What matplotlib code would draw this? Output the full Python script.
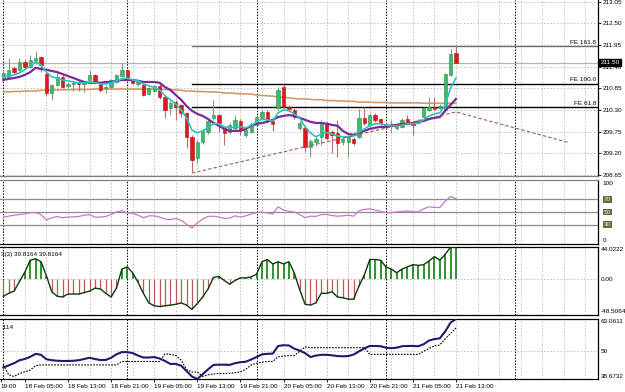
import numpy as np
import matplotlib
matplotlib.use("Agg")
import matplotlib.pyplot as plt
from matplotlib.transforms import blended_transform_factory

plt.rcParams['font.family'] = ['Liberation Sans', 'DejaVu Sans']

# H1 bars, 18 Feb 01:00 .. 21 Feb 13:00
opens = [211.11, 211.14, 211.37, 211.32, 211.52, 211.39, 211.52, 211.65, 211.21, 210.73,
         210.94, 211.14, 210.91, 210.96, 210.99, 210.96, 211.06, 211.19, 210.96, 210.86,
         210.88, 211.01, 211.16, 211.32, 211.06, 210.96, 210.94, 210.71, 210.78, 210.91,
         210.63, 210.35, 210.50, 210.43, 210.23, 209.62, 209.08, 209.49, 209.74, 210.10,
         210.17, 209.85, 209.74, 209.85, 210.02, 209.67, 209.74, 209.92, 210.10, 210.25,
         210.02, 210.35, 210.88, 210.38, 210.30, 209.85, 209.85, 209.36, 209.49, 209.62,
         209.97, 209.74, 209.72, 209.49, 209.49, 209.57, 209.62, 210.10, 209.92, 210.17,
         210.07, 209.87, 209.92, 209.85, 209.87, 210.07, 209.97, 209.97, 210.12, 210.30,
         210.38, 210.35, 210.30, 211.19, 211.75]
highs = [211.32, 211.62, 211.42, 211.62, 211.57, 211.70, 211.80, 211.67, 211.26, 210.96,
         211.24, 211.19, 211.01, 211.06, 211.06, 211.04, 211.32, 211.21, 210.99, 210.94,
         211.09, 211.21, 211.49, 211.34, 211.09, 211.06, 210.96, 210.88, 210.94, 210.96,
         210.68, 210.53, 210.56, 210.45, 210.25, 209.67, 209.54, 209.82, 210.07, 210.56,
         210.20, 209.90, 209.97, 210.17, 210.07, 209.85, 210.00, 210.17, 210.30, 210.30,
         210.07, 210.88, 210.94, 210.43, 210.35, 210.02, 209.90, 209.57, 209.62, 210.05,
         210.02, 209.79, 210.05, 209.62, 209.67, 209.62, 210.33, 210.38, 210.23, 210.23,
         210.10, 210.00, 210.05, 209.97, 210.10, 210.17, 210.02, 210.07, 210.38, 210.63,
         210.63, 210.45, 211.24, 211.85, 211.95]
lows = [211.06, 211.11, 211.21, 211.29, 211.34, 211.37, 211.47, 211.26, 210.66, 210.56,
        210.91, 210.86, 210.86, 210.78, 210.78, 210.76, 211.04, 210.96, 210.76, 210.73,
        210.86, 210.99, 211.14, 211.06, 210.96, 210.91, 210.66, 210.68, 210.76, 210.58,
        210.10, 210.17, 210.05, 210.12, 209.34, 208.73, 208.96, 209.44, 209.69, 210.05,
        209.74, 209.41, 209.69, 209.79, 209.67, 209.62, 209.72, 209.90, 210.05, 210.00,
        209.77, 210.30, 210.35, 210.28, 210.07, 209.79, 209.24, 209.11, 209.39, 209.41,
        209.54, 209.21, 209.11, 209.41, 209.11, 209.41, 209.59, 209.92, 209.87, 210.00,
        209.92, 209.85, 209.72, 209.79, 209.85, 209.92, 209.67, 209.95, 210.10, 210.28,
        210.30, 210.33, 210.25, 211.16, 211.49]
closes = [211.24, 211.32, 211.26, 211.52, 211.39, 211.57, 211.62, 211.44, 210.73, 210.94,
          211.14, 210.88, 210.96, 210.99, 210.96, 211.01, 211.19, 210.99, 210.81, 210.88,
          211.06, 211.19, 211.32, 211.11, 210.99, 211.01, 210.68, 210.86, 210.91, 210.63,
          210.30, 210.48, 210.38, 210.23, 209.62, 209.03, 209.49, 209.77, 210.02, 210.17,
          209.97, 209.72, 209.92, 210.05, 209.79, 209.79, 209.95, 210.12, 210.25, 210.05,
          209.95, 210.81, 210.38, 210.33, 210.12, 209.97, 209.36, 209.52, 209.57, 209.97,
          209.59, 209.67, 209.47, 209.57, 209.62, 209.47, 210.10, 209.97, 210.17, 210.05,
          209.97, 209.95, 209.95, 209.92, 210.05, 209.97, 209.92, 210.02, 210.35, 210.38,
          210.33, 210.40, 211.21, 211.72, 211.50]

ma_fast = [211.14, 211.16, 211.19, 211.24, 211.32, 211.42, 211.52, 211.44, 211.26, 211.14,
           211.11, 211.06, 211.04, 211.01, 210.99, 210.99, 211.01, 210.99, 210.96, 210.96,
           210.99, 211.04, 211.09, 211.11, 211.06, 211.04, 210.96, 210.91, 210.88, 210.81,
           210.66, 210.56, 210.45, 210.30, 210.10, 209.79, 209.72, 209.77, 209.85, 209.95,
           209.95, 209.87, 209.85, 209.87, 209.87, 209.85, 209.90, 210.00, 210.07, 210.05,
           210.02, 210.23, 210.30, 210.28, 210.20, 210.10, 209.87, 209.72, 209.62, 209.69,
           209.72, 209.69, 209.64, 209.62, 209.62, 209.64, 209.74, 209.82, 209.90, 209.95,
           209.95, 209.92, 209.90, 209.90, 209.92, 209.95, 209.95, 209.97, 210.05, 210.15,
           210.20, 210.23, 210.43, 210.86, 211.11]
ma_slow = [211.06, 211.09, 211.11, 211.14, 211.19, 211.26, 211.37, 211.34, 211.32, 211.29,
           211.26, 211.21, 211.16, 211.11, 211.06, 211.01, 210.99, 210.99, 210.99, 211.01,
           211.01, 211.04, 211.06, 211.06, 211.06, 211.04, 211.01, 211.01, 211.01, 210.99,
           210.88, 210.81, 210.68, 210.56, 210.40, 210.28, 210.20, 210.15, 210.07, 209.97,
           209.90, 209.82, 209.77, 209.77, 209.77, 209.82, 209.90, 209.95, 209.97, 210.00,
           210.05, 210.12, 210.15, 210.17, 210.15, 210.10, 210.05, 210.00, 209.97, 209.97,
           209.95, 209.92, 209.90, 209.77, 209.69, 209.67, 209.72, 209.77, 209.82, 209.85,
           209.87, 209.87, 209.90, 209.92, 209.95, 209.95, 209.97, 210.00, 210.02, 210.07,
           210.10, 210.12, 210.28, 210.43, 210.58]
ma_long = [210.76, 210.76, 210.77, 210.77, 210.78, 210.78, 210.78, 210.80, 210.80, 210.81,
           210.81, 210.81, 210.81, 210.82, 210.82, 210.82, 210.82, 210.83, 210.83, 210.83,
           210.83, 210.83, 210.83, 210.83, 210.83, 210.83, 210.83, 210.83, 210.83, 210.82,
           210.82, 210.81, 210.81, 210.80, 210.78, 210.78, 210.77, 210.77, 210.76, 210.76,
           210.75, 210.73, 210.73, 210.72, 210.71, 210.71, 210.70, 210.68, 210.67, 210.66,
           210.65, 210.63, 210.62, 210.61, 210.59, 210.58, 210.58, 210.57, 210.56, 210.56,
           210.54, 210.54, 210.53, 210.53, 210.52, 210.52, 210.50, 210.50, 210.50, 210.49,
           210.49, 210.49, 210.48, 210.48, 210.48, 210.48, 210.48, 210.48, 210.47, 210.47,
           210.47, 210.47, 210.47, 210.47, 210.47]

rsi = [42, 43.5, 45, 46, 47, 49, 49, 46, 37.5, 41,
       43, 41, 42, 42.5, 43, 45, 46, 42, 42, 43,
       46, 50, 52, 48.5, 48, 45, 41, 44, 44, 42,
       39, 38, 40, 37, 31, 25, 33, 39, 43, 43.5,
       42, 40, 40.5, 44, 42, 44, 47, 49, 50, 48.5,
       47, 58, 53, 51, 50, 46, 41, 43.5, 43, 46,
       46, 44.5, 43.5, 44, 45, 43.5, 52, 54, 55, 53,
       51, 49, 49, 50, 51, 51.5, 50.5, 50, 55, 58,
       57, 57, 67, 74, 71]
rsi_levels = [70, 50, 30]

hist = [-23, -19, -16, -3, 10, 26, 28, 24, 5, -17,
        -23, -24, -20, -20, -20, -18, -16, -12, -13, -19,
        -24, -12, 14, 17, 9, -4, -19, -32, -36, -37,
        -36, -35, -34, -32, -35, -41, -33, -24, -13, 2.5,
        4, -1.5, -6.6, -1.5, 2, 2, 3.5, 7, 24, 27,
        21, 24, 21, 24, 8.6, -14, -34, -35, -32, -19,
        -19, -17, -24, -25, -27, -27, -9, 6, 27, 27,
        26, 17, 14, 9, 14, 17, 20, 19, 20, 25,
        31, 26, 34, 44.0222, 44.0]
hist_range = (-48.5064, 44.0222)

adx_main = [43.35, 44.2, 45.1, 46.3, 46.8, 47.7, 48.9, 48.5, 46.7, 46.3,
            46.1, 46.0, 46.0, 46.1, 46.3, 46.8, 47.3, 46.8, 46.4, 46.4,
            47.3, 48.7, 49.6, 49.6, 49.2, 48.2, 47.4, 47.4, 47.6, 47.0,
            46.0, 44.8, 44.8, 44.1, 41.9, 39.7, 38.67, 40.6, 42.6, 44.4,
            44.5, 44.5, 44.4, 45.1, 45.5, 45.7, 46.6, 47.6, 48.7, 48.9,
            49.0, 52.1, 52.4, 52.3, 51.0, 50.2, 49.2, 47.6, 48.2, 48.5,
            48.5, 48.3, 48.0, 47.9, 48.0, 48.6, 49.9, 51.1, 52.1, 52.1,
            52.0, 51.4, 51.2, 51.4, 52.0, 52.1, 52.1, 52.0, 52.8, 54.3,
            54.9, 55.2, 58.0, 61.6, 63.06]
adx_signal = [44.4, 40.4, 39.7, 40.9, 41.6, 42.3, 44.1, 44.4, 44.4, 44.4,
              44.4, 44.4, 44.4, 44.4, 44.4, 44.4, 44.4, 44.4, 44.4, 44.4,
              44.4, 44.4, 45.8, 45.8, 45.8, 45.8, 45.8, 45.8, 45.8, 45.8,
              48.9, 48.7, 48.2, 46.3, 42.6, 41.5, 41.5, 39.7, 40.4, 40.7,
              40.9, 40.9, 41.0, 41.2, 41.6, 42.6, 44.4, 45.1, 45.5, 45.8,
              45.8, 47.7, 48.0, 48.2, 48.2, 49.9, 51.7, 51.4, 51.4, 51.4,
              51.4, 51.4, 51.4, 51.4, 51.4, 51.4, 51.4, 51.4, 48.7, 48.7,
              48.7, 48.7, 48.7, 48.7, 48.7, 48.7, 48.7, 48.7, 49.9, 51.1,
              52.1, 52.5, 55.0, 57.2, 59.4]
adx_range = (38.6732, 63.0611)

fe_levels = [211.92, 210.97, 210.38]
fe_names = ['FE 161.8', 'FE 100.0', 'FE 61.8']
fe_start = 35
trend_x = [35, 84, 105]
trend_y = [208.70, 210.25, 209.47]
bid = 211.50

price_ticks = [208.65, 209.20, 209.75, 210.30, 210.85, 211.40, 211.95, 212.50, 213.05]
day_breaks = [23, 47, 71, 95]
time_pos = [-0.45, 4, 12, 20, 28, 36, 44, 52, 60, 68, 76, 84]
time_labels = ['19:00', '18 Feb 05:00', '18 Feb 13:00', '18 Feb 21:00', '19 Feb 05:00',
               '19 Feb 13:00', '19 Feb 21:00', '20 Feb 05:00', '20 Feb 13:00',
               '20 Feb 21:00', '21 Feb 05:00', '21 Feb 13:00']

W, H = 625, 392
PLOT_W = 598
BAR_PX = 5.389
X0_PX = 3.3
FS = 4.6
XLIM = (-X0_PX / BAR_PX, (PLOT_W - X0_PX) / BAR_PX)


def panel(fig, top, bottom):
    ax = fig.add_axes([0, 1 - bottom / H, PLOT_W / W, (bottom - top) / H])
    ax.set_xlim(*XLIM)
    ax.set_facecolor('white')
    ax.yaxis.tick_right()
    ax.tick_params(axis='y', labelsize=FS, length=2, width=0.6, pad=1.2)
    ax.tick_params(axis='x', length=0, labelbottom=False)
    ax.spines['left'].set_visible(False)
    for s in ['top', 'bottom', 'right']:
        ax.spines[s].set_linewidth(0.9)
    for g in range(4, 112, 4):
        ax.axvline(g, color='#BDBDBD', lw=0.6, ls=(0, (2, 2)), zorder=0)
    for s in [0] + day_breaks:
        ax.axvline(s, color='black', lw=0.7, ls=(0, (1.5, 1.5)), zorder=0.5)
    return ax


def main():
    fig = plt.figure(figsize=(W / 100, H / 100), dpi=100)
    fig.patch.set_facecolor('white')

    o = np.array(opens)
    c = np.array(closes)
    x = np.arange(len(c))
    up = c >= o

    # ---- price window ----
    ax = panel(fig, 0, 176)
    ax.set_ylim(208.625, 213.09)
    ax.spines['top'].set_visible(False)
    ax.spines['bottom'].set_color('#808080')
    ax.set_yticks(price_ticks)
    ax.set_yticklabels(['%.2f' % t for t in price_ticks])
    for t in price_ticks:
        ax.axhline(t, color='#BDBDBD', lw=0.6, ls=(0, (2, 2)), zorder=0)

    ax.axhline(bid, color='#B4B4B4', lw=0.9, zorder=1)
    ax.plot(x, ma_long, color='#D39A6E', lw=1.2, zorder=2)

    wick_col = np.where(up, '#7F9F82', '#C46A6A')
    ax.vlines(x, lows, highs, colors=wick_col, lw=0.8, zorder=3)
    body = np.maximum(np.abs(c - o), 0.012)
    ax.bar(x[up], body[up], bottom=o[up], width=0.62, color='#3DBB6A',
           edgecolor='#2C8A4C', lw=0.4, zorder=4)
    ax.bar(x[~up], body[~up], bottom=c[~up], width=0.62, color='#E3161B',
           edgecolor='#B01014', lw=0.4, zorder=4)

    ax.plot(x, ma_slow, color='#7A2A9E', lw=1.6, zorder=5)
    ax.plot(x, ma_fast, color='#2CC3C0', lw=1.2, zorder=6)

    for lev, name in zip(fe_levels, fe_names):
        col = '#707070' if name == 'FE 161.8' else 'black'
        ax.plot([fe_start, XLIM[1]], [lev, lev], color=col, lw=1.0, zorder=2)
        ax.text(XLIM[1] - 0.3, lev + 0.03, name, fontsize=FS, ha='right', va='bottom', zorder=7)
    ax.plot(trend_x, trend_y, color='#A05A5A', lw=0.8, ls=(0, (3, 2)), zorder=6)

    tr = blended_transform_factory(ax.transAxes, ax.transData)
    ax.text(1.004, bid, '%.2f' % bid, transform=tr, color='white', fontsize=FS,
            va='center', ha='left', zorder=10, clip_on=False,
            bbox=dict(fc='black', ec='black', pad=0.7))

    # ---- RSI window ----
    ax2 = panel(fig, 180, 244)
    ax2.set_ylim(0, 100)
    ax2.spines['top'].set_color('#808080')
    ax2.set_yticks([])
    for lev in rsi_levels:
        ax2.axhline(lev, color='#8C8C8C', lw=0.9, zorder=1)
    ax2.plot(x, rsi, color='#C878C8', lw=0.9, zorder=3)
    tr2 = blended_transform_factory(ax2.transAxes, ax2.transData)
    ax2.text(1.008, 99, '100', transform=tr2, fontsize=FS, va='top', ha='left')
    ax2.text(1.008, 1, '0', transform=tr2, fontsize=FS, va='bottom', ha='left')
    for lev in rsi_levels:
        ax2.text(1.01, lev, str(lev), transform=tr2, fontsize=FS, va='center', ha='left',
                 color='#EDEFD0', bbox=dict(fc='#5F6E3A', ec='none', pad=0.6))

    # ---- histogram window ----
    ax3 = panel(fig, 247, 315)
    ax3.set_ylim(*hist_range)
    ax3.set_yticks([])
    ax3.axhline(0, color='#BDBDBD', lw=0.6, ls=(0, (2, 2)), zorder=0)
    hv = np.array(hist)
    pos = hv > 0
    ax3.vlines(x[pos], 0, hv[pos], colors='#1E8A1E', lw=1.3, zorder=2)
    ax3.vlines(x[~pos], hv[~pos], 0, colors='#B85A5A', lw=0.9, zorder=2)
    ax3.plot(x, hist, color='#0D3B0D', lw=1.0, zorder=3)
    tr3 = blended_transform_factory(ax3.transAxes, ax3.transData)
    ax3.text(1.004, hist_range[1], '%.4f' % hist_range[1], transform=tr3, fontsize=FS,
             va='top', ha='left')
    ax3.text(1.004, 0, '0.00', transform=tr3, fontsize=FS, va='center', ha='left')
    ax3.text(1.004, hist_range[0] + 2, '%.4f' % hist_range[0], transform=tr3,
             fontsize=FS, va='bottom', ha='left')
    ax3.text(0.002, 0.93, '3(3) 39.8164 39.8164', transform=ax3.transAxes,
             fontsize=FS, va='top', ha='left')

    # ---- bottom window ----
    ax4 = panel(fig, 319, 379)
    ax4.set_ylim(*adx_range)
    ax4.set_yticks([])
    ax4.axhline(50, color='#BDBDBD', lw=0.6, ls=(0, (2, 2)), zorder=0)
    ax4.plot(x, adx_signal, color='black', lw=0.8, ls=(0, (1.5, 1.2)), zorder=2)
    ax4.plot(x, adx_main, color='#1C1C6E', lw=1.5, zorder=3)
    tr4 = blended_transform_factory(ax4.transAxes, ax4.transData)
    ax4.text(1.004, adx_range[1], '%.4f' % adx_range[1], transform=tr4, fontsize=FS,
             va='top', ha='left')
    ax4.text(1.004, 50, '50', transform=tr4, fontsize=FS, va='center', ha='left')
    ax4.text(1.004, adx_range[0], '%.4f' % adx_range[0], transform=tr4, fontsize=FS,
             va='bottom', ha='left')
    ax4.text(0.002, 0.9, ':114', transform=ax4.transAxes, fontsize=FS, va='top', ha='left')

    ax4.set_xticks(time_pos)
    ax4.set_xticklabels(time_labels)
    ax4.tick_params(axis='x', labelbottom=True, labelsize=FS, length=2, width=0.6, pad=1.5)
    for lab in ax4.get_xticklabels():
        lab.set_ha('left')

    fig.savefig('out.png', dpi=100, facecolor='white')


if __name__ == "__main__":
    main()
